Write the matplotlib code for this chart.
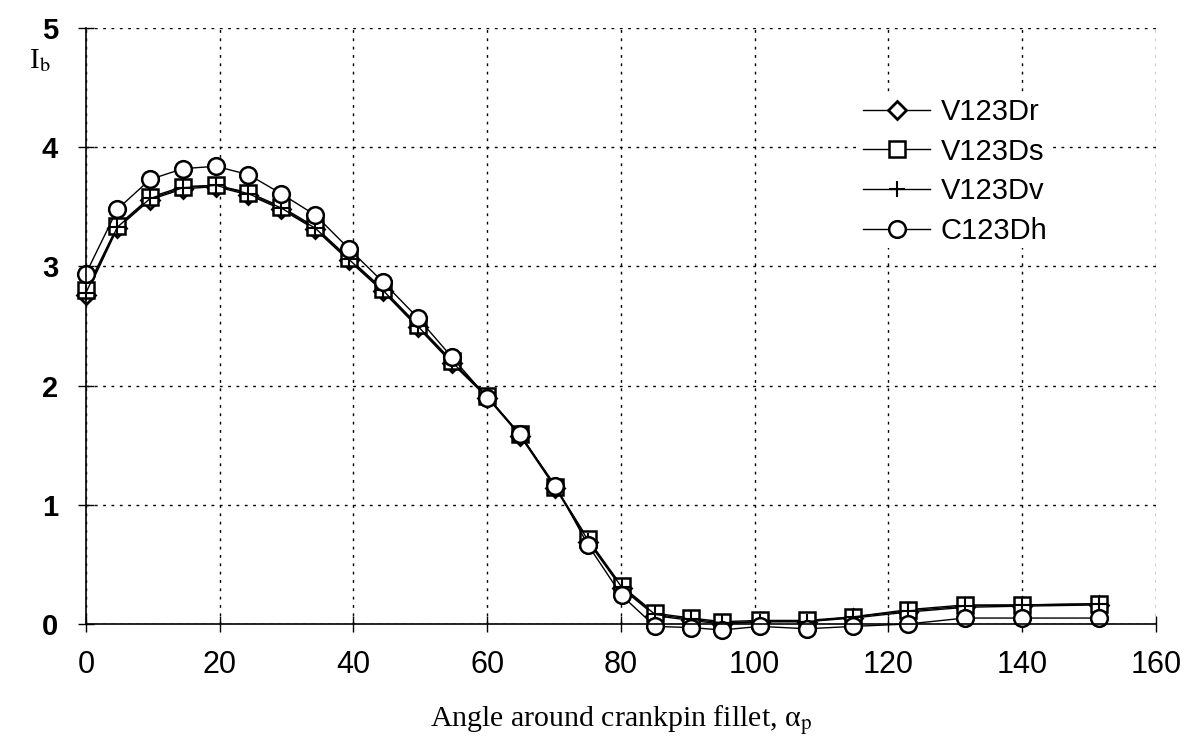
import matplotlib.pyplot as plt

plt.rcParams["mathtext.fontset"] = "stix"

# angle around crankpin fillet (deg)
angle = [0, 4.7, 9.6, 14.5, 19.4, 24.3, 29.2, 34.3, 39.3, 44.4, 49.6, 54.7, 60.0,
         64.9, 70.2, 75.1, 80.1, 85.1, 90.5, 95.1, 100.8, 107.8, 114.7, 122.9,
         131.4, 140.0, 151.5]

v123dr = [2.76, 3.32, 3.56, 3.65, 3.67, 3.60, 3.48, 3.31, 3.05, 2.79, 2.49, 2.19,
          1.90, 1.58, 1.14, 0.69, 0.30, 0.07, 0.03, 0.00, 0.02, 0.02, 0.05, 0.10,
          0.14, 0.15, 0.16]
v123ds = [2.80, 3.34, 3.58, 3.67, 3.68, 3.62, 3.50, 3.33, 3.07, 2.81, 2.51, 2.21,
          1.91, 1.59, 1.15, 0.71, 0.32, 0.09, 0.05, 0.02, 0.03, 0.03, 0.06, 0.12,
          0.16, 0.16, 0.17]
v123dv = [2.78, 3.33, 3.57, 3.66, 3.68, 3.61, 3.49, 3.32, 3.06, 2.80, 2.50, 2.20,
          1.91, 1.59, 1.15, 0.70, 0.31, 0.08, 0.04, 0.01, 0.02, 0.02, 0.06, 0.11,
          0.15, 0.16, 0.17]
c123dh = [2.94, 3.48, 3.73, 3.82, 3.84, 3.77, 3.61, 3.43, 3.15, 2.87, 2.57, 2.24,
          1.90, 1.59, 1.16, 0.66, 0.24, -0.02, -0.03, -0.05, -0.02, -0.04, -0.02,
          0.00, 0.05, 0.05, 0.05]

fig = plt.figure(figsize=(11.89, 7.45), dpi=100)
ax = fig.add_axes([0.0723, 0.1624, 0.8999, 0.8000])

ax.plot(angle, v123dr, color="black", lw=1.0, marker="D", ms=9, mfc="white",
        mec="black", mew=2.0, label="V123Dr", clip_on=False)
ax.plot(angle, v123ds, color="black", lw=1.0, marker="s", ms=11, mfc="white",
        mec="black", mew=1.8, label="V123Ds", clip_on=False)
ax.plot(angle, v123dv, color="black", lw=1.0, marker="+", ms=12, mec="black",
        mew=1.5, label="V123Dv", clip_on=False)
ax.plot(angle, c123dh, color="black", lw=1.0, marker="o", ms=12, mfc="white",
        mec="black", mew=1.8, label="C123Dh", clip_on=False)

ax.set_xlim(0, 160)
ax.set_ylim(0, 5)
ax.set_xticks(range(0, 161, 20))
ax.set_yticks(range(0, 6))
ax.grid(True, color="black", linestyle=(0, (2, 4)), linewidth=1.0)
ax.set_axisbelow(True)

for s in ["top", "right"]:
    ax.spines[s].set_visible(False)
ax.spines["left"].set_linewidth(1.2)
ax.spines["bottom"].set_linewidth(1.2)

ax.tick_params(direction="inout", length=12, width=1.0)
ax.tick_params(axis="x", pad=13, labelsize=22)
ax.tick_params(axis="y", pad=14, labelsize=21)
for lab in ax.get_xticklabels():
    lab.set_fontfamily("Liberation Sans")
for lab in ax.get_yticklabels():
    lab.set_fontfamily("Liberation Sans")
    lab.set_fontweight("bold")

ax.set_xlabel("Angle around crankpin fillet, α$_\\mathrm{p}$",
              fontfamily="Liberation Serif", fontsize=21.5, labelpad=16)
fig.text(0.024, 0.918, r"I$_\mathrm{b}$", fontfamily="Liberation Serif",
         fontsize=21, va="center", ha="left")

leg = ax.legend(loc="upper left", bbox_to_anchor=(0.71, 0.912), frameon=True,
                prop={"family": "Liberation Sans", "size": 21},
                handlelength=2.3, handletextpad=0.35, labelspacing=0.4,
                borderpad=0.1, fancybox=False, framealpha=1.0)
leg.get_frame().set_facecolor("white")
leg.get_frame().set_edgecolor("none")

fig.savefig("out.png", dpi=100)
